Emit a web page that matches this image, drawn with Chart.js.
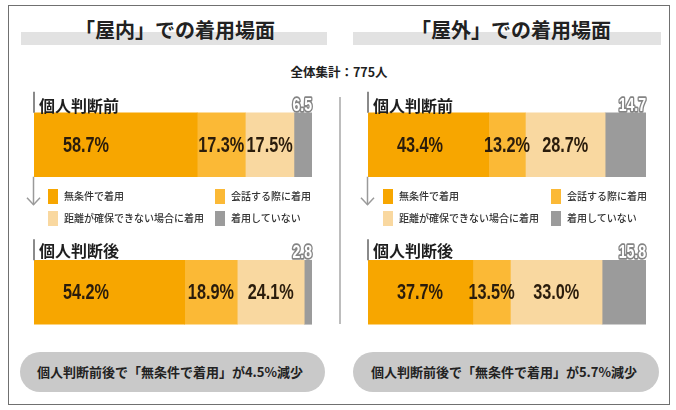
<!DOCTYPE html>
<html><head><meta charset="utf-8">
<script src="https://cdn.jsdelivr.net/npm/chart.js@4.4.1/dist/chart.umd.min.js"></script>
<style>
html,body{margin:0;padding:0;background:#fff;}
body{width:676px;height:410px;position:relative;overflow:hidden;font-family:"Noto Sans CJK JP",sans-serif;color:#1e1e1e;}
.abs{position:absolute;}
.frame{left:8px;top:5px;width:660px;height:398px;border:1px solid #707070;}
.tbar{background:#e2e2e2;top:32px;height:13px;}
.title{top:18px;height:24px;line-height:24px;font-size:20px;font-weight:700;white-space:nowrap;transform:translateX(-50%);color:#222;}
.total{top:63px;height:18px;line-height:18px;font-size:12.5px;font-weight:700;white-space:nowrap;transform:translateX(-50%);}
.cat{height:20px;line-height:20px;font-size:16px;font-weight:700;white-space:nowrap;}
.lg{height:14px;line-height:14px;font-size:10px;font-weight:500;white-space:nowrap;color:#333;}
.sq{width:10px;height:15px;}
.pill{top:352px;height:40px;border-radius:20px;background:#c9c9c9;}
.ptxt{top:362px;height:20px;line-height:20px;font-size:13px;font-weight:700;white-space:nowrap;transform:translateX(-50%);color:#222;}
canvas{position:absolute;top:0;}
</style></head>
<body>
<div class="abs frame"></div>
<div class="abs tbar" style="left:21px;width:306px;"></div>
<div class="abs tbar" style="left:353px;width:308px;"></div>
<div class="abs title" style="left:175px;">「屋内」での着用場面</div>
<div class="abs title" style="left:511px;">「屋外」での着用場面</div>
<div class="abs total" style="left:339px;">全体集計：775人</div>
<div class="abs" style="left:339px;top:97px;width:2px;height:227px;background:#bdbdbd;"></div>
<canvas id="cIn" width="338" height="410" style="left:0;"></canvas>
<canvas id="cOut" width="338" height="410" style="left:334px;"></canvas>
<div id="overlay"></div>
<script>
// ---- data ----
const categories = ['個人判断前', '個人判断後'];
const seriesNames = ['無条件で着用', '会話する際に着用', '距離が確保できない場合に着用', '着用していない'];
const indoorUnconditional = [58.7, 54.2];
const indoorConversation = [17.3, 18.9];
const indoorDistance = [17.5, 24.1];
const indoorNone = [6.5, 2.8];
const outdoorUnconditional = [43.4, 37.7];
const outdoorConversation = [13.2, 13.5];
const outdoorDistance = [28.7, 33.0];
const outdoorNone = [14.7, 15.8];
const totalRespondents = 775;

// ---- styles ----
const colors = ['#f7a600', '#fbb936', '#f9d8a0', '#9b9b9b'];
const pctFont = "bold 22px 'Liberation Sans','Arimo',sans-serif";
const smallFont = "bold 19px 'Liberation Sans','Arimo',sans-serif";

const ov = document.getElementById('overlay');
function addDiv(cls, style, text){
  const d = document.createElement('div');
  d.className = 'abs ' + cls; d.setAttribute('style', style);
  if (text !== undefined) d.textContent = text;
  ov.appendChild(d); return d;
}

const labelPlugin = {
  id: 'labels',
  afterDatasetsDraw(chart){
    const ctx = chart.ctx;
    const n = chart.data.datasets.length;
    ctx.save();
    for (let i = 0; i < chart.data.labels.length; i++){
      const b0 = chart.getDatasetMeta(0).data[i].getProps(['x','y','base','height'], true);
      const top = b0.y - b0.height/2, bottom = b0.y + b0.height/2;
      ctx.strokeStyle = '#8a8a8a'; ctx.lineWidth = 2;
      ctx.beginPath(); ctx.moveTo(b0.base, top - 21); ctx.lineTo(b0.base, top); ctx.stroke();
      if (i === 0){
        ctx.strokeStyle = '#9a9a9a'; ctx.lineWidth = 1.5;
        ctx.beginPath(); ctx.moveTo(b0.base - 0.5, bottom); ctx.lineTo(b0.base - 0.5, bottom + 28); ctx.stroke();
        ctx.beginPath(); ctx.moveTo(b0.base - 7, bottom + 21); ctx.lineTo(b0.base - 0.5, bottom + 28); ctx.lineTo(b0.base + 6, bottom + 21); ctx.stroke();
      }
      for (let d = 0; d < n; d++){
        const el = chart.getDatasetMeta(d).data[i].getProps(['x','y','base','height'], true);
        const v = chart.data.datasets[d].data[i];
        if (d < n - 1){
          ctx.save();
          ctx.font = pctFont; ctx.fillStyle = '#2a1c0c';
          ctx.textAlign = 'center'; ctx.textBaseline = 'middle';
          const cx = d === 0 ? el.base + 52 : (el.x + el.base) / 2;
          ctx.translate(cx, el.y + 1); ctx.scale(0.74, 1);
          ctx.fillText(v.toFixed(1) + '%', 0, 0);
          ctx.restore();
        } else {
          ctx.save();
          ctx.font = smallFont; ctx.textAlign = 'right'; ctx.textBaseline = 'alphabetic';
          const tx = el.x, ty = el.y - el.height/2 - 2;
          ctx.translate(tx, ty); ctx.scale(0.74, 1);
          ctx.lineJoin = 'round'; ctx.lineWidth = 3.5; ctx.strokeStyle = '#858585';
          ctx.strokeText(v.toFixed(1), 0, 0);
          ctx.fillStyle = '#ffffff'; ctx.fillText(v.toFixed(1), 0, 0);
          ctx.restore();
        }
      }
    }
    ctx.restore();
  }
};

function makeChart(id, series, padLeft, padRight){
  const datasets = series.map((s, k) => ({
    label: seriesNames[k], data: s, backgroundColor: colors[k],
    borderWidth: 0, barThickness: 64
  }));
  return new Chart(document.getElementById(id), {
    type: 'bar',
    data: { labels: categories, datasets },
    options: {
      responsive: false, animation: false, indexAxis: 'y',
      layout: { padding: { left: padLeft, right: padRight, top: 71, bottom: 44 } },
      plugins: { legend: { display: false }, tooltip: { enabled: false } },
      scales: {
        x: { stacked: true, min: 0, max: 100, display: false },
        y: { stacked: true, display: false }
      }
    },
    plugins: [labelPlugin]
  });
}

makeChart('cIn', [indoorUnconditional, indoorConversation, indoorDistance, indoorNone], 34, 26);
makeChart('cOut', [outdoorUnconditional, outdoorConversation, outdoorDistance, outdoorNone], 34, 26);

function panel(barLeft, legendCol1, legendCol2, pillLeft, pillWidth, textCenter, uncond){
  addDiv('cat', `left:${barLeft + 5}px;top:95px;`, categories[0]);
  addDiv('cat', `left:${barLeft + 5}px;top:240px;`, categories[1]);
  const rows = [[0, legendCol1, 189], [1, legendCol2, 189], [2, legendCol1, 211], [3, legendCol2, 211]];
  rows.forEach(([k, x, y]) => {
    addDiv('sq', `left:${x}px;top:${y}px;background:${colors[k]};`);
    addDiv('lg', `left:${x + 16}px;top:${y}px;`, seriesNames[k]);
  });
  addDiv('pill', `left:${pillLeft}px;width:${pillWidth}px;`);
  const diff = (uncond[0] - uncond[1]).toFixed(1);
  addDiv('ptxt', `left:${textCenter}px;`, `個人判断前後で「無条件で着用」が${diff}%減少`);
}
panel(34, 48, 215, 20, 305, 170, indoorUnconditional);
panel(368, 383, 551, 353, 306, 504, outdoorUnconditional);
</script>
</body></html>
